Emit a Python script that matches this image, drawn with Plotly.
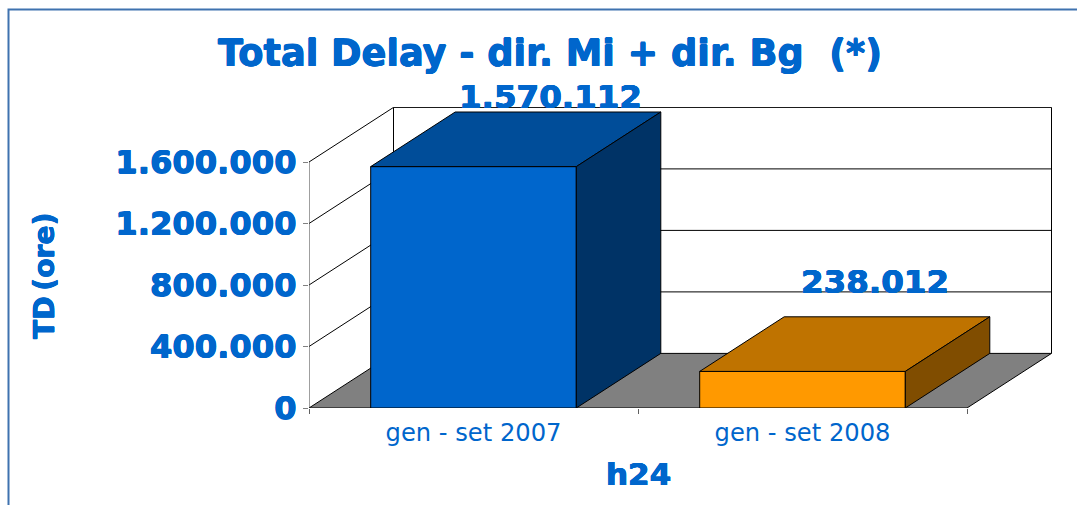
import plotly.graph_objects as go

# Data
categories = ["gen - set 2007", "gen - set 2008"]
values = [1570112, 238012]
front_colors = ["#0066CC", "#FF9900"]
top_colors = ["#004D99", "#BF7300"]
side_colors = ["#003366", "#804D00"]
y_ticks = [0, 400000, 800000, 1200000, 1600000]

BLUE = "#0066CC"
FONT = "DejaVu Sans"
HEAVY = "0.45px 0 0 #0066CC, -0.45px 0 0 #0066CC, 0 0.45px 0 #0066CC, 0 -0.45px 0 #0066CC"
W, H = 1077, 505
L, R, T, B = 309, 25, 107, 97
PX_PER_CAT = 329.0
PX_PER_VAL = 246.0 / 1600000
DEPTH_X = 84.5 / PX_PER_CAT
DEPTH_Y = 54.6 / PX_PER_VAL
BAR_W = 1 / 1.6
N = len(categories)


def dot(v):
    return f"{v:,}".replace(",", ".")


def proj(cat, val, depth):
    return cat + depth * DEPTH_X, val + depth * DEPTH_Y


def poly(corners):
    pts = [proj(*c) for c in corners]
    pts.append(pts[0])
    return [p[0] for p in pts], [p[1] for p in pts]


fig = go.Figure()


def add_poly(corners, fill, line="#000000", lw=1, axes=("x", "y"), closed=True):
    xs, ys = poly(corners)
    if not closed:
        xs, ys = xs[:-1], ys[:-1]
    fig.add_trace(go.Scatter(
        x=xs, y=ys, mode="lines", fill="toself" if fill else None, fillcolor=fill,
        line=dict(color=line, width=lw), hoverinfo="skip", showlegend=False,
        xaxis=axes[0], yaxis=axes[1], cliponaxis=False,
    ))


# Floor
add_poly([(0, 0, 0), (N, 0, 0), (N, 0, 1), (0, 0, 1)], "#808080")
# Gridlines on the side and back walls
for v in y_ticks[1:]:
    add_poly([(0, v, 0), (0, v, 1), (N, v, 1)], None, closed=False)
# Back wall verticals and front axis line
add_poly([(0, 0, 1), (0, y_ticks[-1], 1)], None, closed=False)
add_poly([(N, 0, 1), (N, y_ticks[-1], 1)], None, closed=False)
add_poly([(0, 0, 0), (0, y_ticks[-1], 0)], None, line="#404040", closed=False)

# Bars: front faces on an overlay so that they sit above the walls
centres = [i + 0.5 for i in range(N)]
fig.add_trace(go.Bar(
    x=centres, y=values, width=BAR_W, xaxis="x2", yaxis="y2", showlegend=False,
    marker=dict(color=front_colors, line=dict(color="#000000", width=1)),
    hoverinfo="skip", cliponaxis=False,
))
for c, v, tc, sc in zip(centres, values, top_colors, side_colors):
    a, b = c - BAR_W / 2, c + BAR_W / 2
    add_poly([(a, v, 0), (b, v, 0), (b, v, 1), (a, v, 1)], tc, axes=("x2", "y2"))
    add_poly([(b, 0, 0), (b, v, 0), (b, v, 1), (b, 0, 1)], sc, axes=("x2", "y2"))

x_range = [0, (W - L - R) / PX_PER_CAT]
y_range = [0, (H - T - B) / PX_PER_VAL]


def px_x(p):
    return (p - L) / (W - L - R)


def px_y(p):
    return (H - B - p) / (H - T - B)


annotations = [
    dict(text=dot(v), x=c, y=v, xref="x2", yref="y2", xshift=sx, yshift=sy, showarrow=False,
         font=dict(family=FONT, size=32.5, color=BLUE, weight="bold", shadow=HEAVY),
         xanchor="center", yanchor="middle")
    for c, v, sx, sy in zip(centres, values, [77, 72], [70, 89])
]
annotations += [
    dict(text="h24", x=px_x(638), y=px_y(474), xref="paper", yref="paper", showarrow=False,
         font=dict(family=FONT, size=31, color=BLUE, weight="bold", shadow=HEAVY),
         xanchor="center", yanchor="middle"),
    dict(text="TD\u2009(ore)", x=px_x(44), y=px_y(276), xref="paper", yref="paper", showarrow=False, textangle=-90,
         font=dict(family=FONT, size=28.2, color=BLUE, weight="bold", shadow=HEAVY),
         xanchor="center", yanchor="middle"),
]

fig.update_layout(
    width=W, height=H, autosize=False,
    margin=dict(l=L, r=R, t=T, b=B, pad=0),
    paper_bgcolor="#FFFFFF", plot_bgcolor="rgba(0,0,0,0)", showlegend=False,
    title=dict(text="Total Delay - dir. Mi + dir. Bg \u00a0(*)", x=550 / W, xanchor="center", xref="container",
               y=1 - 53 / H, yanchor="middle",
               font=dict(family=FONT, size=36.7, color=BLUE, weight="bold", shadow=HEAVY)),
    xaxis=dict(range=x_range, showgrid=False, zeroline=False, showline=False,
               tickmode="array", tickvals=centres, ticktext=categories, ticks="", ticklabelstandoff=8,
               tickfont=dict(family=FONT, size=24.2, color=BLUE),
               minor=dict(tickmode="array", tickvals=list(range(N + 1)), ticks="outside", ticklen=5,
                          tickcolor="#606060", tickwidth=1, showgrid=False)),
    yaxis=dict(range=y_range, showgrid=False, zeroline=False, showline=False,
               tickmode="array", tickvals=y_ticks, ticktext=[dot(v) for v in y_ticks],
               ticks="outside", ticklen=5, tickcolor="#808080", tickwidth=1,
               tickfont=dict(family=FONT, size=32.2, color=BLUE, weight="bold", shadow=HEAVY)),
    xaxis2=dict(overlaying="x", matches="x", visible=False, range=x_range),
    yaxis2=dict(overlaying="y", matches="y", visible=False, range=y_range),
    annotations=annotations,
    shapes=[dict(type="rect", xref="paper", yref="paper", x0=px_x(8.5), x1=px_x(1120), y0=px_y(9.5), y1=px_y(540),
                 line=dict(color="#3F72AF", width=2), fillcolor="rgba(0,0,0,0)", layer="below")],
)

fig.write_html("out.html", post_script="document.body.style.margin='0';document.body.style.overflow='hidden';",
               config={"displayModeBar": False})
